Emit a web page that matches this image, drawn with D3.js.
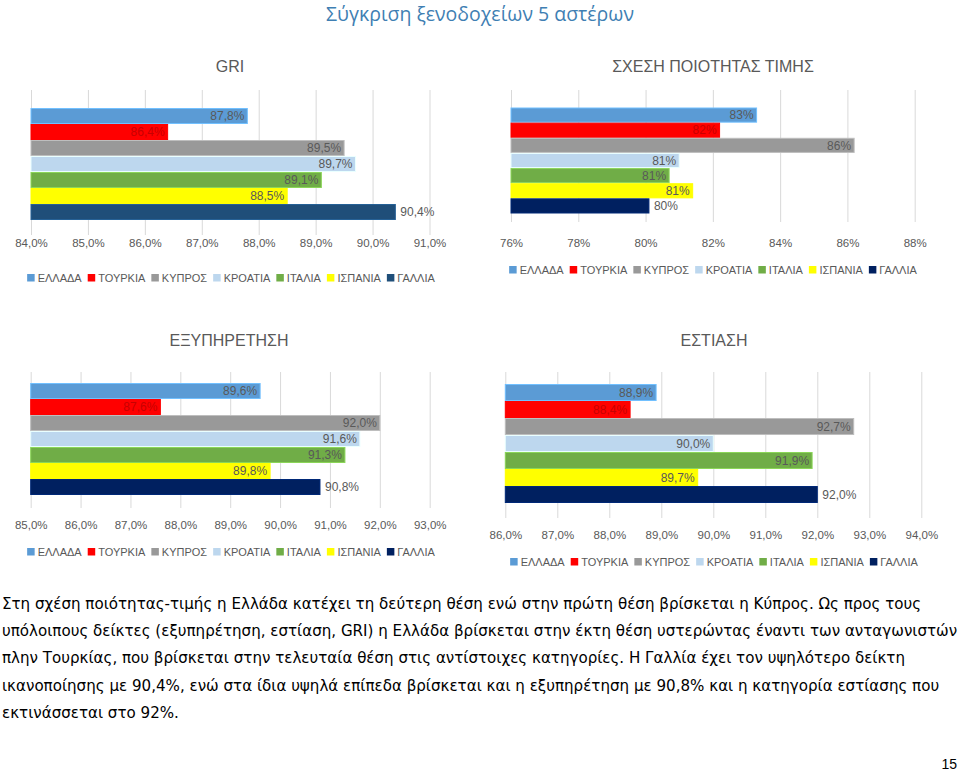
<!DOCTYPE html>
<html><head><meta charset="utf-8">
<script src="https://cdn.jsdelivr.net/npm/d3@7"></script>
<style>body{margin:0;background:#fff}svg{display:block}</style>
</head><body>
<svg id="c" width="960" height="773"></svg>
<script>
// ---- data ----
const countries = ["ΕΛΛΑΔΑ","ΤΟΥΡΚΙΑ","ΚΥΠΡΟΣ","ΚΡΟΑΤΙΑ","ΙΤΑΛΙΑ","ΙΣΠΑΝΙΑ","ΓΑΛΛΙΑ"];
const colorsA = ["#5B9BD5","#FF0000","#999999","#BDD7EE","#70AD47","#FFFF00","#1F4E79"];
const colorsB = ["#5B9BD5","#FF0000","#999999","#BDD7EE","#70AD47","#FFFF00","#002060"];
const griValues = [87.8, 86.4, 89.5, 89.7, 89.1, 88.5, 90.4];
const priceValues = [83.3, 82.2, 86.2, 81.0, 80.7, 81.4, 80.1];
const serviceValues = [89.6, 87.6, 92.0, 91.6, 91.3, 89.8, 90.8];
const diningValues = [88.9, 88.4, 92.7, 90.0, 91.9, 89.7, 92.0];
const griTicks = [84,85,86,87,88,89,90,91];
const priceTicks = [76,78,80,82,84,86,88];
const serviceTicks = [85,86,87,88,89,90,91,92,93];
const diningTicks = [86,87,88,89,90,91,92,93,94];
const titles = ["GRI","ΣΧΕΣΗ ΠΟΙΟΤΗΤΑΣ ΤΙΜΗΣ","ΕΞΥΠΗΡΕΤΗΣΗ","ΕΣΤΙΑΣΗ"];
const mainTitle = "Σύγκριση ξενοδοχείων 5 αστέρων";
const paragraph = [
 "Στη σχέση ποιότητας-τιμής η Ελλάδα κατέχει τη δεύτερη θέση ενώ στην πρώτη θέση βρίσκεται η Κύπρος. Ως προς τους",
 "υπόλοιπους δείκτες (εξυπηρέτηση, εστίαση, GRI) η Ελλάδα βρίσκεται στην έκτη θέση υστερώντας έναντι των ανταγωνιστών",
 "πλην Τουρκίας, που βρίσκεται στην τελευταία θέση στις αντίστοιχες κατηγορίες. Η Γαλλία έχει τον υψηλότερο δείκτη",
 "ικανοποίησης με 90,4%, ενώ στα ίδια υψηλά επίπεδα βρίσκεται και η εξυπηρέτηση με 90,8% και η κατηγορία εστίασης που",
 "εκτινάσσεται στο 92%."
];
const pageNumber = "15";

const loc = d3.formatLocale({decimal:",", thousands:".", grouping:[3], currency:["","€"]});
const f1 = v => loc.format(".1f")(v) + "%";
const f0 = v => loc.format(".0f")(v) + "%";

const svg = d3.select("#c");
const FONT = "'Liberation Sans', Arial, sans-serif";

svg.append("text").attr("x",480).attr("y",21).attr("text-anchor","middle")
  .attr("font-family","'Open Sans', sans-serif").attr("font-size",19.5).attr("fill","#3f7fb3")
  .text(mainTitle);

function chart(cfg){
  const g = svg.append("g");
  const x = d3.scaleLinear().domain([cfg.ticks[0], cfg.ticks[cfg.ticks.length-1]]).range([cfg.x0, cfg.x1]);
  const y = d3.scaleBand().domain(countries).range([cfg.yb0, cfg.yb1]).paddingInner(0.0);
  g.append("text").attr("x",cfg.tx).attr("y",cfg.ty).attr("text-anchor","middle")
    .attr("font-family",FONT).attr("font-size",16).attr("fill","#595959").text(cfg.title);
  g.selectAll("line.grid").data(cfg.ticks).join("line")
    .attr("x1",d=>x(d)+0.5).attr("x2",d=>x(d)+0.5).attr("y1",cfg.gy0).attr("y2",cfg.gy1)
    .attr("stroke","#d9d9d9").attr("stroke-width",1);
  const ax = d3.axisBottom(x).tickValues(cfg.ticks).tickFormat(cfg.tickFmt).tickSize(0).tickPadding(0);
  const axg = g.append("g").attr("transform",`translate(0,${cfg.tickY})`).call(ax);
  axg.select(".domain").remove();
  axg.selectAll("text").attr("font-family",FONT).attr("font-size",11.5).attr("fill","#595959")
    .attr("dy","0.35em");
  const vals = cfg.values;
  g.selectAll("rect.bar").data(countries).join("rect")
    .attr("x",x.range()[0]).attr("y",d=>y(d)+0.5)
    .attr("width",(d,i)=>x(vals[i])-x.range()[0]).attr("height",y.bandwidth()-1)
    .attr("fill",(d,i)=>cfg.colors[i])
    .attr("stroke",(d,i)=>d3.color(cfg.colors[i]).brighter(0.6))
    .attr("stroke-width",1);
  g.selectAll("text.lab").data(countries).join("text")
    .attr("x",(d,i)=> i===6 ? x(vals[i])+5 : x(vals[i])-3)
    .attr("y",d=>y(d)+y.bandwidth()/2).attr("dy","0.35em")
    .attr("text-anchor",(d,i)=> i===6 ? "start" : "end")
    .attr("font-family",FONT).attr("font-size",12)
    .attr("fill",(d,i)=> i===1 ? "#c80000" : "#595959")
    .text((d,i)=>cfg.labFmt(vals[i]));
  const lg = g.append("g");
  const items = lg.selectAll("g").data(countries).join("g");
  items.append("rect").attr("width",7.5).attr("height",7.5).attr("y",-4)
    .attr("fill",(d,i)=>cfg.colors[i]);
  items.append("text").attr("x",10.5).attr("dy","0.35em").attr("font-family",FONT)
    .attr("font-size",11).attr("fill","#595959").text(d=>d);
  let cx = 0; const pos = [];
  items.each(function(){ pos.push(cx); cx += 10.5 + this.querySelector("text").getComputedTextLength() + 6; });
  const total = cx - 6;
  items.attr("transform",(d,i)=>`translate(${pos[i]},0)`);
  lg.attr("transform",`translate(${cfg.lx - total/2},${cfg.ly})`);
}

chart({title:titles[0], tx:230, ty:72, ticks:griTicks, values:griValues, colors:colorsA,
  x0:31, x1:429.5, yb0:108, yb1:220, gy0:90, gy1:235, tickY:243, tickFmt:f1, labFmt:f1, lx:231, ly:278});
chart({title:titles[1], tx:713, ty:72, ticks:priceTicks, values:priceValues, colors:colorsB,
  x0:511, x1:914.7, yb0:107.5, yb1:213.5, gy0:90, gy1:222, tickY:243, tickFmt:f0, labFmt:f0, lx:713, ly:270});
chart({title:titles[2], tx:229, ty:346, ticks:serviceTicks, values:serviceValues, colors:colorsB,
  x0:30.7, x1:429.7, yb0:383, yb1:495, gy0:372, gy1:508, tickY:525, tickFmt:f1, labFmt:f1, lx:231, ly:552});
chart({title:titles[3], tx:714, ty:346, ticks:diningTicks, values:diningValues, colors:colorsB,
  x0:505.3, x1:921.3, yb0:384, yb1:503, gy0:372, gy1:518, tickY:535, tickFmt:f1, labFmt:f1, lx:714, ly:562});

svg.append("g").selectAll("text").data(paragraph).join("text")
  .attr("x",2).attr("y",(d,i)=>609 + i*27.2)
  .attr("font-family","'DejaVu Sans', Verdana, sans-serif").attr("font-size",15.1).attr("fill","#000")
  .text(d=>d);

svg.append("text").attr("x",957).attr("y",769).attr("text-anchor","end")
  .attr("font-family",FONT).attr("font-size",14).attr("fill","#000").text(pageNumber);
</script>
</body></html>
